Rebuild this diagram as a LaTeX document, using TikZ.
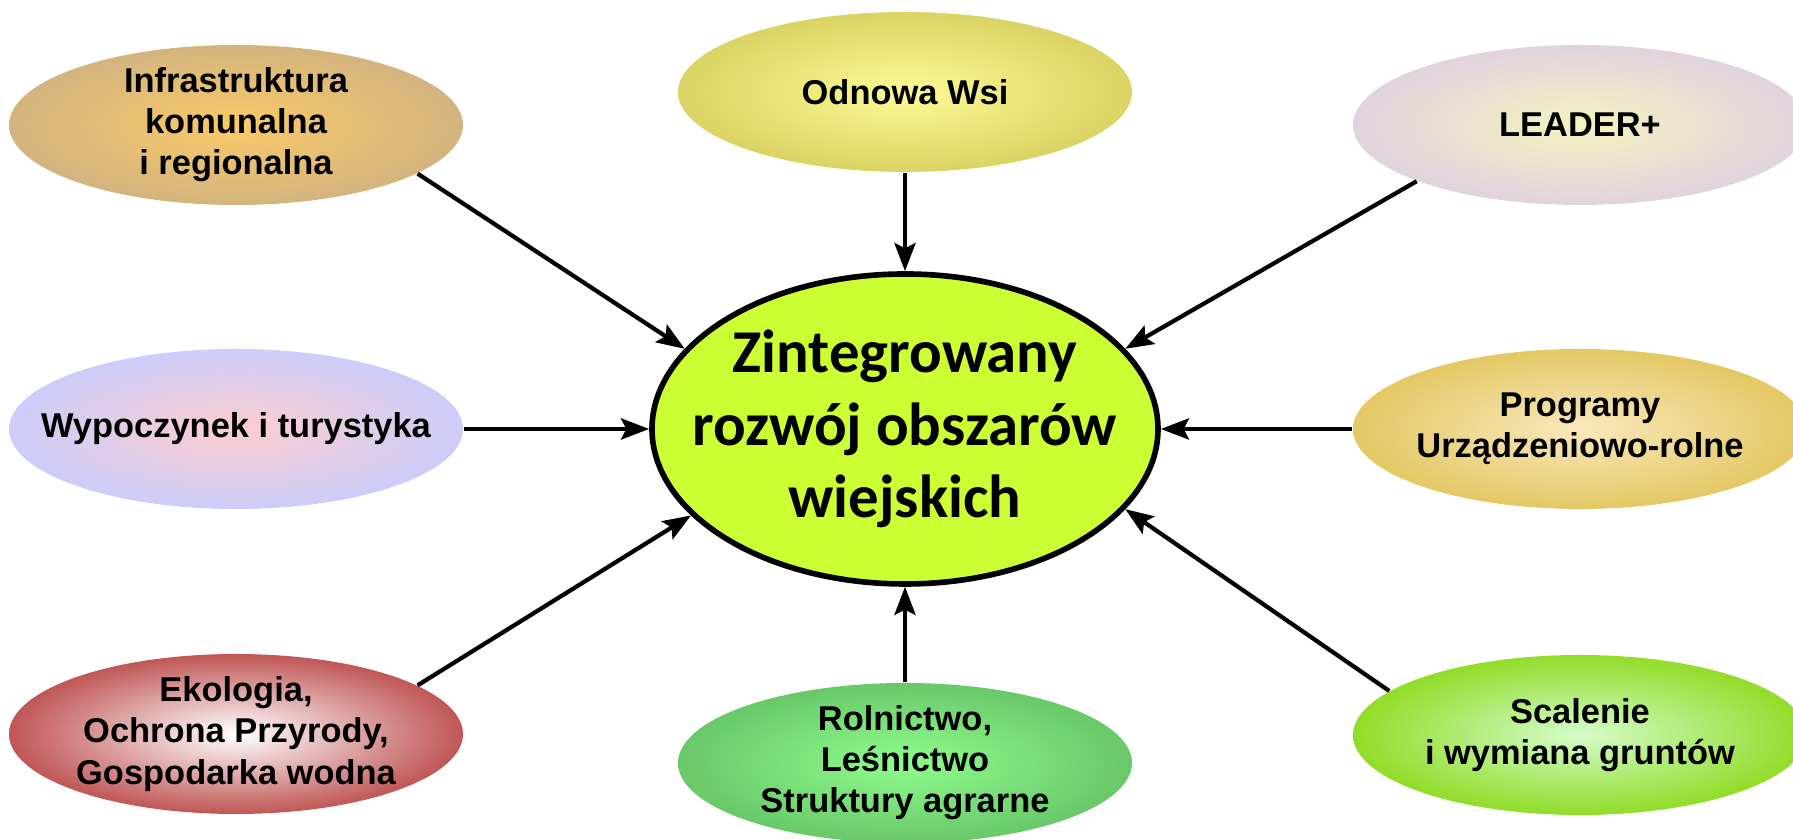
\documentclass[tikz,border=0pt]{standalone}
\usepackage{fontspec}
\setmainfont{Liberation Sans}
\newfontfamily\corefont{Carlito}
\usepackage{tikz}
\usetikzlibrary{arrows.meta,shapes.geometric}
\definecolor{infraOut}{RGB}{210,180,126}
\definecolor{infraIn}{RGB}{250,202,104}
\definecolor{wsiOut}{RGB}{218,212,100}
\definecolor{wsiIn}{RGB}{252,250,150}
\definecolor{leaderOut}{RGB}{225,210,222}
\definecolor{leaderIn}{RGB}{246,242,192}
\definecolor{turOut}{RGB}{205,205,250}
\definecolor{turIn}{RGB}{252,205,208}
\definecolor{progOut}{RGB}{228,200,100}
\definecolor{progIn}{RGB}{249,232,188}
\definecolor{ekoOut}{RGB}{192,86,86}
\definecolor{ekoIn}{RGB}{255,255,255}
\definecolor{rolOut}{RGB}{105,200,105}
\definecolor{rolIn}{RGB}{142,252,140}
\definecolor{scalOut}{RGB}{145,220,40}
\definecolor{scalIn}{RGB}{212,252,202}
\definecolor{coreFill}{RGB}{204,255,51}
\tikzset{
  every picture/.style = {
    x = 0.1mm,
    y = 0.1mm,
    >={Stealth[length=8pt,width=6pt,inset=1.5pt]},
  }
  ,
  topic/.style = {
    ellipse,
    inner xsep = -4mm,
    inner ysep = -1.5mm,
    minimum width = 45.4mm,
    minimum height = 16mm,
    align = center,
    font = \fontsize{9.8pt}{11.7pt}\selectfont\bfseries
  }
  , % the central ellipse
  core/.style = {
    ellipse,
    draw,
    line width = 1.6pt,
    fill = coreFill,
    inner xsep = -6mm,
    inner ysep = -2.5mm,
    minimum width = 50.6mm,
    minimum height = 31mm,
    align = center,
    font = \corefont\fontsize{17.3pt}{20.6pt}\selectfont\bfseries
  }
  , % connectors
  link/.style = {
    line width = 1.2pt
  }
}
\begin{document}
\begin{tikzpicture}[->]
  \useasboundingbox (0,0) rectangle (1793,840);

  \node [core] (core) at (905,411) {Zintegrowany\\rozwój obszarów\\wiejskich};

  \node [topic, inner color=infraIn, outer color=infraOut] (infra) at (236,715)
    {Infrastruktura\\komunalna\\i regionalna};
  \node [topic, inner color=wsiIn, outer color=wsiOut] (wsi) at (905,748)
    {Odnowa Wsi};
  \node [topic, inner color=leaderIn, outer color=leaderOut] (leader) at (1580,715)
    {LEADER+};
  \node [topic, inner color=turIn, outer color=turOut] (tur) at (236,411)
    {Wypoczynek i turystyka};
  \node [topic, inner color=progIn, outer color=progOut] (prog) at (1580,411)
    {Programy\\Urządzeniowo-rolne};
  \node [topic, inner color=ekoIn, outer color=ekoOut] (eko) at (236,106)
    {Ekologia,\\Ochrona Przyrody,\\Gospodarka wodna};
  \node [topic, inner color=rolIn, outer color=rolOut] (rol) at (905,77)
    {Rolnictwo,\\Leśnictwo\\Struktury agrarne};
  \node [topic, inner color=scalIn, outer color=scalOut] (scal) at (1580,105)
    {Scalenie\\i wymiana gruntów};

  \path [link] (infra.-15) edge (core.160)
               (wsi.south) edge (core.north)
               (leader.199) edge (core.20)
               (tur.east) edge (core.west)
               (prog.west) edge (core.east)
               (eko.15) edge (core.202)
               (rol.north) edge (core.south)
               (scal.167) edge (core.-20);
\end{tikzpicture}
\end{document}
